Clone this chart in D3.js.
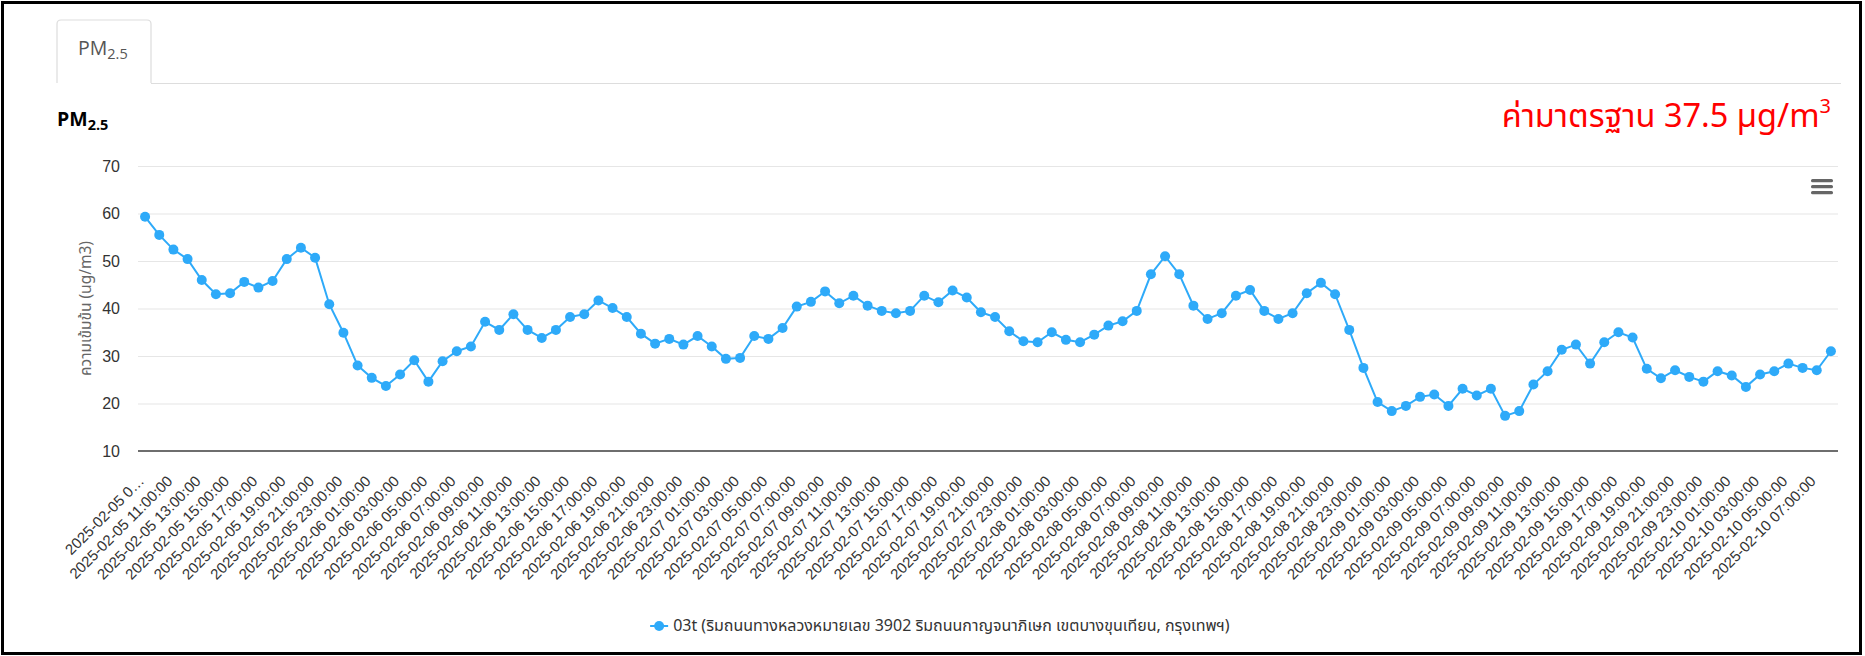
<!DOCTYPE html>
<html><head><meta charset="utf-8">
<script src="https://cdn.jsdelivr.net/npm/d3@7"></script>
<style>
html,body{margin:0;padding:0;background:#fff;}
svg{display:block;}
</style></head><body>
<svg id="c" width="1865" height="656"></svg>
<script>
const categories = [
"2025-02-05 09:00:00","2025-02-05 10:00:00","2025-02-05 11:00:00","2025-02-05 12:00:00","2025-02-05 13:00:00","2025-02-05 14:00:00","2025-02-05 15:00:00","2025-02-05 16:00:00","2025-02-05 17:00:00","2025-02-05 18:00:00","2025-02-05 19:00:00","2025-02-05 20:00:00","2025-02-05 21:00:00","2025-02-05 22:00:00","2025-02-05 23:00:00",
"2025-02-06 00:00:00","2025-02-06 01:00:00","2025-02-06 02:00:00","2025-02-06 03:00:00","2025-02-06 04:00:00","2025-02-06 05:00:00","2025-02-06 06:00:00","2025-02-06 07:00:00","2025-02-06 08:00:00","2025-02-06 09:00:00","2025-02-06 10:00:00","2025-02-06 11:00:00","2025-02-06 12:00:00","2025-02-06 13:00:00","2025-02-06 14:00:00","2025-02-06 15:00:00","2025-02-06 16:00:00","2025-02-06 17:00:00","2025-02-06 18:00:00","2025-02-06 19:00:00","2025-02-06 20:00:00","2025-02-06 21:00:00","2025-02-06 22:00:00","2025-02-06 23:00:00",
"2025-02-07 00:00:00","2025-02-07 01:00:00","2025-02-07 02:00:00","2025-02-07 03:00:00","2025-02-07 04:00:00","2025-02-07 05:00:00","2025-02-07 06:00:00","2025-02-07 07:00:00","2025-02-07 08:00:00","2025-02-07 09:00:00","2025-02-07 10:00:00","2025-02-07 11:00:00","2025-02-07 12:00:00","2025-02-07 13:00:00","2025-02-07 14:00:00","2025-02-07 15:00:00","2025-02-07 16:00:00","2025-02-07 17:00:00","2025-02-07 18:00:00","2025-02-07 19:00:00","2025-02-07 20:00:00","2025-02-07 21:00:00","2025-02-07 22:00:00","2025-02-07 23:00:00",
"2025-02-08 00:00:00","2025-02-08 01:00:00","2025-02-08 02:00:00","2025-02-08 03:00:00","2025-02-08 04:00:00","2025-02-08 05:00:00","2025-02-08 06:00:00","2025-02-08 07:00:00","2025-02-08 08:00:00","2025-02-08 09:00:00","2025-02-08 10:00:00","2025-02-08 11:00:00","2025-02-08 12:00:00","2025-02-08 13:00:00","2025-02-08 14:00:00","2025-02-08 15:00:00","2025-02-08 16:00:00","2025-02-08 17:00:00","2025-02-08 18:00:00","2025-02-08 19:00:00","2025-02-08 20:00:00","2025-02-08 21:00:00","2025-02-08 22:00:00","2025-02-08 23:00:00",
"2025-02-09 00:00:00","2025-02-09 01:00:00","2025-02-09 02:00:00","2025-02-09 03:00:00","2025-02-09 04:00:00","2025-02-09 05:00:00","2025-02-09 06:00:00","2025-02-09 07:00:00","2025-02-09 08:00:00","2025-02-09 09:00:00","2025-02-09 10:00:00","2025-02-09 11:00:00","2025-02-09 12:00:00","2025-02-09 13:00:00","2025-02-09 14:00:00","2025-02-09 15:00:00","2025-02-09 16:00:00","2025-02-09 17:00:00","2025-02-09 18:00:00","2025-02-09 19:00:00","2025-02-09 20:00:00","2025-02-09 21:00:00","2025-02-09 22:00:00","2025-02-09 23:00:00",
"2025-02-10 00:00:00","2025-02-10 01:00:00","2025-02-10 02:00:00","2025-02-10 03:00:00","2025-02-10 04:00:00","2025-02-10 05:00:00","2025-02-10 06:00:00","2025-02-10 07:00:00","2025-02-10 08:00:00"
];
const pm25 = [
59.3, 55.5, 52.4, 50.4, 46.0, 43.0, 43.2, 45.6, 44.4, 45.8, 50.4, 52.8, 50.7, 40.9, 34.9, 28.0, 25.4, 23.7, 26.1, 29.1, 24.6, 28.9, 31.0, 32.0,
37.2, 35.5, 38.8, 35.5, 33.8, 35.5, 38.2, 38.8, 41.7, 40.1, 38.2, 34.7, 32.6, 33.6, 32.4, 34.2, 32.0, 29.4, 29.6, 34.2, 33.6, 35.9, 40.4, 41.4,
43.6, 41.1, 42.7, 40.6, 39.5, 39.0, 39.5, 42.7, 41.3, 43.8, 42.3, 39.2, 38.2, 35.2, 33.1, 32.9, 35.0, 33.4, 32.9, 34.5, 36.4, 37.3, 39.5, 47.2,
51.0, 47.2, 40.6, 37.8, 39.0, 42.7, 43.9, 39.5, 37.8, 39.0, 43.2, 45.4, 43.0, 35.5, 27.5, 20.3, 18.4, 19.5, 21.4, 21.9, 19.5, 23.1, 21.7, 23.1,
17.4, 18.4, 24.0, 26.8, 31.3, 32.4, 28.4, 32.9, 35.0, 33.9, 27.3, 25.3, 27.0, 25.6, 24.6, 26.8, 25.9, 23.5, 26.1, 26.8, 28.4, 27.5, 27.0, 31.0
];
const yTicks = [10, 20, 30, 40, 50, 60, 70];
const xTickLabels = categories.filter((d, i) => i % 2 === 0);
const seriesName = "03t (ริมถนนทางหลวงหมายเลข 3902 ริมถนนกาญจนาภิเษก เขตบางขุนเทียน, กรุงเทพฯ)";
const yAxisTitle = "ความเข้มข้น (ug/m3)";
const standardText = "ค่ามาตรฐาน 37.5 µg/m";
const standardSup = "3";
const tabLabel = ["PM", "2.5"];

const COLOR = "#2eaaf9";
const thaiFont = "Tahoma, 'Leelawadee UI', 'Noto Sans Thai', 'Noto Sans', 'Liberation Sans', sans-serif";
const svg = d3.select("#c");

// outer frame
svg.append("rect").attr("x", 2.5).attr("y", 2.5).attr("width", 1858).attr("height", 651)
  .attr("fill", "none").attr("stroke", "#000").attr("stroke-width", 3);

// tab
svg.append("path").attr("d", "M57,83 V24 Q57,20 61,20 H147 Q151,20 151,24 V83")
  .attr("fill", "#fff").attr("stroke", "#dddddd").attr("stroke-width", 1.2);
svg.append("line").attr("x1", 151).attr("x2", 1841).attr("y1", 83.5).attr("y2", 83.5)
  .attr("stroke", "#dddddd").attr("stroke-width", 1.2);
const tabT = svg.append("text").attr("x", 78).attr("y", 55).attr("fill", "#555")
  .style("font-family", "'Open Sans', sans-serif").style("font-size", "19.5px");
tabT.append("tspan").text(tabLabel[0]);
tabT.append("tspan").attr("dy", 4).style("font-size", "14.5px").text(tabLabel[1]);

// chart title
const tt = svg.append("text").attr("x", 57).attr("y", 126).attr("fill", "#000")
  .style("font-family", "'Open Sans', sans-serif").style("font-size", "19.5px").style("font-weight", "bold");
tt.append("tspan").text(tabLabel[0]);
tt.append("tspan").attr("dy", 4).style("font-size", "14.5px").text(tabLabel[1]);

// standard text
const st = svg.append("text").attr("x", 1831).attr("y", 127).attr("text-anchor", "end").attr("fill", "#ff0000")
  .style("font-family", thaiFont).style("font-size", "32.5px");
st.append("tspan").text(standardText);
st.append("tspan").attr("dy", -14).style("font-size", "20px").text(standardSup);

// scales
const plotL = 138, plotR = 1838, plotT = 166, plotB = 451;
const x = d3.scaleBand().domain(categories).range([plotL, plotR]).padding(0);
const y = d3.scaleLinear().domain([10, 70]).range([plotB, plotT]);
const bw = x.bandwidth();

// y axis + grid
const gy = svg.append("g").attr("transform", `translate(${plotL},0)`)
  .call(d3.axisLeft(y).tickValues(yTicks).tickSize(-(plotR - plotL)).tickPadding(18).tickFormat(d3.format("d")));
gy.select(".domain").remove();
gy.selectAll(".tick line").attr("stroke", "#e6e6e6").attr("stroke-width", 1.2)
  .attr("opacity", d => d === 10 ? 0 : 1);
gy.selectAll(".tick text").attr("fill", "#333")
  .style("font-family", "'Liberation Sans', Arial, sans-serif").style("font-size", "16px");

// y axis title
svg.append("text").attr("transform", `translate(86,${(plotT + plotB) / 2}) rotate(-90)`)
  .attr("text-anchor", "middle").attr("dominant-baseline", "central").attr("fill", "#666")
  .style("font-family", thaiFont).style("font-size", "15.5px").text(yAxisTitle);

// x axis
const gx = svg.append("g").attr("transform", `translate(0,${plotB})`)
  .call(d3.axisBottom(x).tickValues(xTickLabels).tickSize(0)
    .tickFormat((d, i) => i === 0 ? d.slice(0, 12) + "…" : d));
gx.select(".domain").remove();
gx.selectAll(".tick text").attr("x", 0).attr("y", 0).attr("dy", 0)
  .attr("text-anchor", "end").attr("transform", "translate(0,31) rotate(-45)")
  .attr("fill", "#333").style("font-family", "'Liberation Sans', Arial, sans-serif").style("font-size", "15px");
svg.append("line").attr("x1", plotL).attr("x2", plotR).attr("y1", plotB).attr("y2", plotB)
  .attr("stroke", "#6e6e6e").attr("stroke-width", 2);

// series
const line = d3.line().x((d, i) => x(categories[i]) + bw / 2).y(d => y(d));
svg.append("path").datum(pm25).attr("d", line).attr("fill", "none").attr("stroke", COLOR).attr("stroke-width", 2);
svg.append("g").selectAll("circle").data(pm25).join("circle")
  .attr("cx", (d, i) => x(categories[i]) + bw / 2).attr("cy", d => y(d)).attr("r", 5).attr("fill", COLOR);

// menu icon
svg.append("g").selectAll("rect").data([0, 1, 2]).join("rect")
  .attr("x", 1811).attr("y", d => 179 + d * 6).attr("width", 22).attr("height", 3.2).attr("rx", 1.5).attr("fill", "#666");

// legend
const lg = svg.append("g");
lg.append("line").attr("x1", 0).attr("x2", 18).attr("y1", 0).attr("y2", 0).attr("stroke", COLOR).attr("stroke-width", 2);
lg.append("circle").attr("cx", 9).attr("cy", 0).attr("r", 5).attr("fill", COLOR);
lg.append("text").attr("x", 23).attr("y", 0).attr("dominant-baseline", "central").attr("fill", "#333")
  .style("font-family", thaiFont).style("font-size", "16px").text(seriesName);
const bb = lg.node().getBBox();
lg.attr("transform", `translate(${940 - bb.width / 2},626)`);
</script>
</body></html>
